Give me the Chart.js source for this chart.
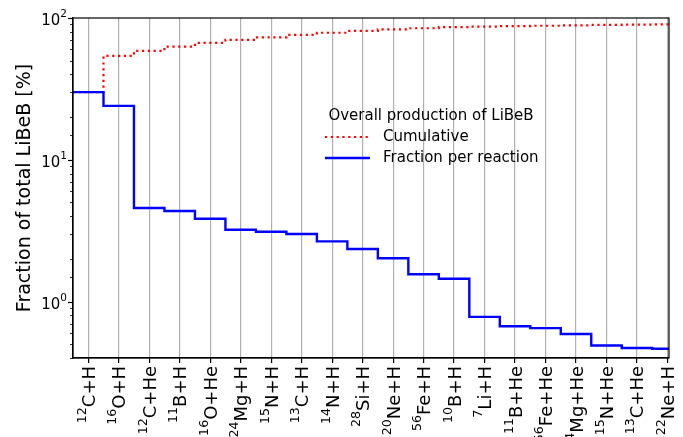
<!DOCTYPE html>
<html lang="en">
<head>
<meta charset="UTF-8">
<title>Overall production of LiBeB</title>
<script src="https://cdn.jsdelivr.net/npm/chart.js"></script>
<style>
  html, body { margin: 0; padding: 0; background: #fff; }
</style>
</head>
<body>
<canvas id="chart" width="683" height="437"></canvas>
<script>
const reactions = ['¹²C+H', '¹⁶O+H', '¹²C+He', '¹¹B+H', '¹⁶O+He', '²⁴Mg+H', '¹⁵N+H', '¹³C+H', '¹⁴N+H', '²⁸Si+H',
                   '²⁰Ne+H', '⁵⁶Fe+H', '¹⁰B+H', '⁷Li+H', '¹¹B+He', '⁵⁶Fe+He', '²⁴Mg+He', '¹⁵N+He', '¹³C+He', '²²Ne+H'];
const fraction = [30.0, 24.0, 4.57, 4.35, 3.84, 3.21, 3.11, 3.00, 2.66, 2.35,
                  2.02, 1.56, 1.45, 0.78, 0.67, 0.65, 0.59, 0.49, 0.47, 0.465];
const cumulative = [30.0, 54.0, 58.6, 62.9, 66.8, 70.0, 73.1, 76.1, 78.7, 81.1,
                    83.1, 84.7, 86.1, 86.9, 87.6, 88.2, 88.8, 89.3, 89.8, 90.2];
const yTicks = [1, 10, 100];
const yTickLabels = ['10⁰', '10¹', '10²'];
const legendTitle = 'Overall production of LiBeB';

const X_MIN = -0.5, X_MAX = 19.05;
const FONT = '"DejaVu Sans"';

Chart.defaults.font.family = FONT + ', sans-serif';
Chart.defaults.color = '#000';

// step line running edge to edge of the axes
function steps(values) {
  const pts = values.map((v, i) => ({x: i, y: v}));
  pts.unshift({x: X_MIN, y: values[0]});
  pts.push({x: X_MAX, y: values[values.length - 1]});
  return pts;
}

// split '¹²C+H' into runs of normal and superscript text (mathtext-like)
const SUP = '⁰¹²³⁴⁵⁶⁷⁸⁹';
function runs(label) {
  const out = [];
  for (const ch of label) {
    const k = SUP.indexOf(ch);
    const sup = k >= 0;
    const c = sup ? String(k) : ch;
    const last = out[out.length - 1];
    if (last && last.sup === sup) last.text += c;
    else out.push({sup, text: c});
  }
  return out;
}
function runFont(r, size) { return (r.sup ? size * 0.7 : size) + 'px ' + FONT; }
function runsWidth(ctx, rs, size) {
  return rs.reduce((w, r) => { ctx.font = runFont(r, size); return w + ctx.measureText(r.text).width; }, 0);
}
function drawRuns(ctx, rs, x, y, size) {
  rs.forEach(r => {
    ctx.font = runFont(r, size);
    ctx.fillText(r.text, x, r.sup ? y - size * 0.5 : y);
    x += ctx.measureText(r.text).width;
  });
}

const extras = {
  id: 'extras',
  afterDraw(chart) {
    const {ctx, chartArea: a, scales: {x, y}} = chart;
    ctx.save();
    ctx.fillStyle = '#000';
    ctx.strokeStyle = '#000';
    ctx.textBaseline = 'alphabetic';
    ctx.textAlign = 'left';

    // y tick marks, long at decades, and labels
    y.ticks.forEach(t => {
      const k = yTicks.findIndex(v => Math.abs(v - t.value) < 1e-9);
      const py = Math.round(y.getPixelForValue(t.value)) + 0.5;
      ctx.lineWidth = k >= 0 ? 1.2 : 0.8;
      ctx.beginPath();
      ctx.moveTo(a.left - (k >= 0 ? 5 : 3), py);
      ctx.lineTo(a.left, py);
      ctx.stroke();
      if (k >= 0) {
        const rs = runs(yTickLabels[k]);
        drawRuns(ctx, rs, a.left - 6 - runsWidth(ctx, rs, 15), py + 6, 15);
      }
    });

    // rotated x labels
    reactions.forEach((lab, i) => {
      const rs = runs(lab);
      const px = x.getPixelForValue(i);
      ctx.save();
      ctx.translate(px + 6.5, a.bottom + 8);
      ctx.rotate(-Math.PI / 2);
      drawRuns(ctx, rs, -runsWidth(ctx, rs, 18), 0, 18);
      ctx.restore();
    });

    // frame
    ctx.lineWidth = 1.2;
    ctx.strokeRect(a.left, a.top, a.right - a.left, a.bottom - a.top);

    // legend, no box
    ctx.font = '15px ' + FONT;
    ctx.textBaseline = 'middle';
    ctx.textAlign = 'center';
    ctx.fillText(legendTitle, 431, 116);
    ctx.textAlign = 'left';
    [1, 0].forEach((k, row) => {
      const ds = chart.data.datasets[k];
      const ly = 137 + row * 21;
      ctx.strokeStyle = ds.borderColor;
      ctx.lineWidth = ds.borderWidth;
      ctx.setLineDash(ds.borderDash || []);
      ctx.beginPath();
      ctx.moveTo(325, ly);
      ctx.lineTo(370, ly);
      ctx.stroke();
      ctx.setLineDash([]);
      ctx.fillText(ds.label, 383, ly);
    });
    ctx.restore();
  }
};

new Chart(document.getElementById('chart'), {
  type: 'line',
  data: {
    datasets: [
      {
        label: 'Fraction per reaction',
        data: steps(fraction),
        borderColor: '#0000ff',
        borderWidth: 2.4,
        stepped: 'middle',
        pointRadius: 0,
        fill: false
      },
      {
        label: 'Cumulative',
        data: steps(cumulative),
        borderColor: '#ff0000',
        borderWidth: 2.2,
        borderDash: [2.2, 3.6],
        stepped: 'middle',
        pointRadius: 0,
        fill: false
      }
    ]
  },
  options: {
    responsive: false,
    animation: false,
    layout: { padding: { top: 18, right: 14, left: 0, bottom: 0 } },
    plugins: { legend: { display: false }, tooltip: { enabled: false } },
    scales: {
      x: {
        type: 'linear',
        min: X_MIN,
        max: X_MAX,
        afterBuildTicks: s => { s.ticks = reactions.map((_, i) => ({value: i})); },
        afterFit: s => { s.height = 79; },
        grid: { color: '#b0b0b0', lineWidth: 1.2, tickColor: '#000', tickLength: 5, tickWidth: 1.2 },
        border: { color: '#000', width: 1.2 },
        ticks: { autoSkip: false, maxRotation: 0, callback: () => '' }
      },
      y: {
        type: 'logarithmic',
        min: 0.4,
        max: 100,
        afterFit: s => { s.width = 73; },
        grid: { display: false },
        border: { color: '#000', width: 1.2 },
        ticks: { autoSkip: false, callback: () => '' },
        title: {
          display: true,
          text: 'Fraction of total LiBeB [%]',
          font: { size: 19 },
          padding: { top: 14, bottom: 0 }
        }
      }
    }
  },
  plugins: [extras]
});
</script>
</body>
</html>
